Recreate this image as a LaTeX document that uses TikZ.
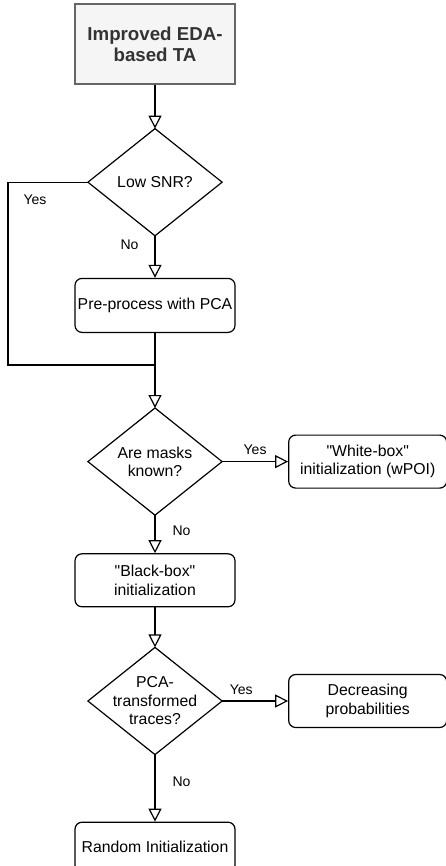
\documentclass[tikz,border=0pt]{standalone}
\usepackage{fontspec}
\setmainfont{Liberation Sans}
\usetikzlibrary{
  arrows.meta,
  positioning,
  calc
}
\definecolor{tafill}{HTML}{F5F5F5}
\definecolor{taborder}{HTML}{666666}
\definecolor{tatext}{HTML}{333333}
\newcommand{\qt}[1]{\textquotedbl#1\textquotedbl}

\begin{document}
\begin{tikzpicture}[
  x=1pt, y=-1pt,
  >={Triangle[open, length=13pt, width=13pt]},
  line width=1.2pt,
  every node/.style={font=\fontsize{15.8}{18.5}\selectfont, align=center, inner sep=0pt},
  start/.style={draw=taborder, fill=tafill, text=tatext, minimum width=160pt, minimum height=80pt,
    font=\fontsize{18.7}{21}\selectfont\bfseries},
  process/.style={draw, rounded corners=7pt, minimum width=160pt, minimum height=53pt},
  outcome/.style={process, minimum width=158pt},
  decision/.style={minimum width=133pt, minimum height=106pt},
  answer/.style={font=\fontsize{14}{16}\selectfont}
]
  \useasboundingbox (0,0) rectangle (445,866);

  \node[start] (start) at (155,44) {Improved EDA-\\based TA};
  \node[decision, below=44pt of start] (snr) {Low SNR?};
  \node[process, below=42pt of snr, minimum height=54pt] (pre) {Pre-process with PCA};
  \coordinate (join) at ($(pre.south)+(0,32)$);

  % Masks
  \node[decision, below=75pt of pre] (masks) {Are masks\\known?};
  \node[outcome, right=66pt of masks] (white) {\qt{White-box}\\initialization (wPOI)};
  \node[process, below=38pt of masks] (black) {\qt{Black-box}\\initialization};

  % PCA traces
  \node[decision, below=40pt of black] (pca) {PCA-\\transformed\\traces?};
  \node[outcome, right=66pt of pca] (decr) {Decreasing\\probabilities};
  \node[process, below=67pt of pca, minimum height=50pt] (rand) {Random Initialization};

  \foreach \d in {snr, masks, pca}
    \draw (\d.north) -- (\d.east) -- (\d.south) -- (\d.west) -- cycle;

  % Flow
  \draw[->] (start.south) -- (snr.north);
  \draw[->] (snr.south) -- node[answer, pos=0.22, left=16pt] {No} (pre.north);
  \draw (snr.west) -- ++(-80,0) node[answer, below right={12pt and 15pt}] {Yes} |- (join);
  \draw[->] (pre.south) -- (masks.north);
  \draw[->] (masks.east) -- node[answer, above=6pt] {Yes} (white.west);
  \draw[->] (masks.south) -- node[answer, pos=0.42, right=17pt] {No} (black.north);
  \draw[->] (black.south) -- (pca.north);
  \draw[->] (pca.east) -- node[answer, pos=0.29, above=6pt] {Yes} (decr.west);
  \draw[->] (pca.south) -- node[answer, pos=0.4, right=17pt] {No} (rand.north);

\end{tikzpicture}
\end{document}
